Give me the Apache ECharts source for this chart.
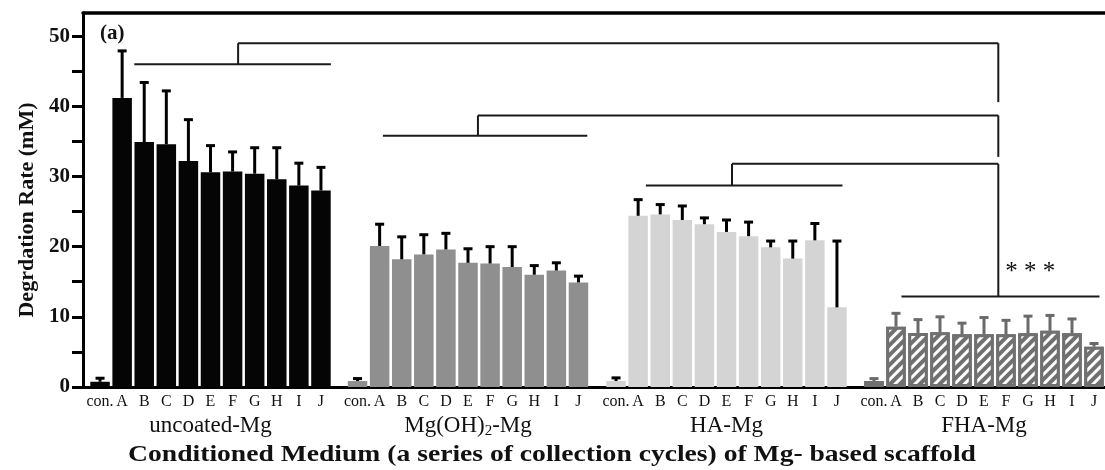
<!DOCTYPE html>
<html><head><meta charset="utf-8">
<script src="https://cdn.jsdelivr.net/npm/echarts@6/dist/echarts.min.js"></script>
<style>html,body{margin:0;padding:0;background:#fff}#c{width:1105px;height:470px}</style>
</head><body><div id="c"></div>
<script>
// ---- data ----
const cycles = ['con.','A','B','C','D','E','F','G','H','I','J'];
const groupNames = ['uncoated-Mg','{n|Mg(OH)}{s|2}{n|-Mg}','HA-Mg','FHA-Mg'];
const uncoatedMean = [0.75, 41.2, 34.9, 34.6, 32.2, 30.6, 30.7, 30.4, 29.6, 28.7, 28.0];
const uncoatedSD   = [0.5, 6.7, 8.5, 7.6, 5.9, 3.8, 2.8, 3.7, 4.5, 3.2, 3.3];
const mgohMean = [0.85, 20.1, 18.2, 18.9, 19.6, 17.7, 17.6, 17.1, 16.0, 16.6, 14.9];
const mgohSD   = [0.35, 3.1, 3.2, 2.8, 2.3, 2.0, 2.4, 2.9, 1.3, 1.1, 0.9];
const haMean = [0.85, 24.4, 24.6, 23.8, 23.2, 22.1, 21.5, 19.9, 18.3, 20.9, 11.35];
const haSD   = [0.45, 2.3, 1.4, 2.0, 0.9, 1.7, 2.0, 0.9, 2.5, 2.4, 9.45];
const fhaMean = [0.85, 8.6, 7.7, 7.8, 7.5, 7.5, 7.5, 7.65, 8.0, 7.65, 5.75];
const fhaSD   = [0.35, 1.9, 1.9, 2.2, 1.6, 2.4, 2.0, 2.45, 2.2, 2.05, 0.45];
// significance brackets (category positions within group, values in mM)
const underFrom  = [1.55, 1.15, 1.35, 1.25];
const underTo    = [10.45, 10.4, 10.25, 10.25];
const underLevel = [46.0, 35.8, 28.7, 12.9];
const riserAt    = [6.25, 5.45, 5.25, 5.65];
const linkLevel  = [49.0, 38.7, 31.8];
const dropEnd    = [40.6, 32.8, 12.9];
const starsPos   = [7.1, 16.3];
const yLabelValues = [0, 10, 20, 30, 40, 50];
const yTickValues = [0, 5, 10, 15, 20, 25, 30, 35, 40, 45, 50];
const yMax = 53.3;
const xTitle = 'Conditioned Medium (a series of collection cycles) of Mg- based scaffold';
const yTitle = 'Degrdation Rate (mM)';
const panelTag = '(a)';

// ---- style ----
const FONT = 'Liberation Serif';
const means = [uncoatedMean, mgohMean, haMean, fhaMean];
const sds = [uncoatedSD, mgohSD, haSD, fhaSD];
const barColors = ['#050505','#8f8f8f','#d4d4d4','#707070'];
const errColors = ['#000','#000','#000','#6a6a6a'];
const gridLefts = [89, 346.5, 605, 863];
const gridWidth = 243;
const TOP = 13, BOTTOM = 83;

const grids = [{left:83, right:0, top:TOP, bottom:BOTTOM}];
gridLefts.forEach(l => grids.push({left:l, width:gridWidth, top:TOP, bottom:BOTTOM}));

const xAxes = [
  {type:'value', gridIndex:0, min:0, max:1, position:'bottom',
   axisLine:{show:true, onZero:false, lineStyle:{color:'#000', width:3}},
   axisTick:{show:false}, axisLabel:{show:false}, splitLine:{show:false}},
  {type:'value', gridIndex:0, min:0, max:1, position:'top',
   axisLine:{show:true, onZero:false, lineStyle:{color:'#000', width:3.5}},
   axisTick:{show:false}, axisLabel:{show:false}, splitLine:{show:false}}
];
const yAxes = [
  {type:'value', gridIndex:0, min:0, max:yMax, interval:10,
   axisLine:{show:true, lineStyle:{color:'#000', width:3}},
   axisTick:{show:true, length:11, customValues:yTickValues, lineStyle:{width:3, color:'#000'}},
   minorTick:{show:false},
   splitLine:{show:false}, minorSplitLine:{show:false},
   axisLabel:{fontFamily:FONT, fontWeight:'bold', fontSize:21, color:'#111', margin:13, customValues:yLabelValues},
   name:yTitle, nameLocation:'middle', nameGap:40,
   nameTextStyle:{fontFamily:FONT, fontWeight:'bold', fontSize:22, color:'#111', padding:[0,20,0,0]}}
];
const series = [];
for (let g = 0; g < 4; g++) {
  xAxes.push({type:'category', gridIndex:g+1, data:cycles,
    axisLine:{show:false}, axisTick:{show:false},
    axisLabel:{fontFamily:FONT, fontSize:16, color:'#111', margin:7, interval:0},
    name:groupNames[g], nameLocation:'middle', nameGap:25,
    nameTextStyle:{fontFamily:FONT, fontSize:23, color:'#111',
      rich:{n:{fontFamily:FONT, fontSize:23, color:'#111'},
            s:{fontFamily:FONT, fontSize:15, color:'#111', verticalAlign:'bottom', padding:[10,0,0,0]}}}});
  yAxes.push({type:'value', gridIndex:g+1, min:0, max:yMax, show:false});
  const itemStyle = {color:barColors[g]};
  if (g === 3) {
    itemStyle.borderColor = barColors[g];
    itemStyle.borderWidth = 3;
    itemStyle.decal = {symbol:'rect', color:'#ffffff', dashArrayX:[1,0], dashArrayY:[2.2,3.5], rotation:-Math.PI/4};
  }
  series.push({type:'bar', xAxisIndex:g+2, yAxisIndex:g+1, data:means[g],
    barWidth:19.5, itemStyle, silent:true, animation:false});
  series.push({type:'custom', xAxisIndex:g+2, yAxisIndex:g+1, z:5, animation:false, silent:true,
    data:means[g].map((m,i)=>[i, m, m + sds[g][i]]),
    renderItem:(params, api) => {
      const x = api.value(0), m = api.value(1), t = api.value(2);
      const p1 = api.coord([x, m]), p2 = api.coord([x, t]);
      const w = 4.5, c = errColors[g];
      return {type:'group', children:[
        {type:'line', shape:{x1:p1[0], y1:p1[1], x2:p2[0], y2:p2[1]}, style:{stroke:c, lineWidth:3}},
        {type:'line', shape:{x1:p2[0]-w, y1:p2[1], x2:p2[0]+w, y2:p2[1]}, style:{stroke:c, lineWidth:3}}
      ]};
    }});
}

const chart = echarts.init(document.getElementById('c'));
chart.setOption({
  animation:false,
  backgroundColor:'#fff',
  grid:grids, xAxis:xAxes, yAxis:yAxes, series
});

// brackets & texts through the library's scales
function px(g, pos) {
  const a = chart.convertToPixel({gridIndex:g+1}, [0, 0])[0];
  const b = chart.convertToPixel({gridIndex:g+1}, [10, 0])[0];
  return a + (b - a) * pos / 10;
}
function py(v) { return chart.convertToPixel({gridIndex:1}, [0, v])[1]; }
const ls = {stroke:'#1a1a1a', lineWidth:2};
const els = [];
function L(x1,y1,x2,y2){ els.push({type:'line', shape:{x1,y1,x2,y2}, style:ls, silent:true}); }
for (let g = 0; g < 4; g++) {
  L(px(g, underFrom[g]), py(underLevel[g]), px(g, underTo[g]), py(underLevel[g]));
}
for (let g = 0; g < 3; g++) {
  const xr = px(g, riserAt[g]), xe = px(3, riserAt[3]);
  L(xr, py(underLevel[g]), xr, py(linkLevel[g]));
  L(xr, py(linkLevel[g]), xe, py(linkLevel[g]));
  L(xe, py(linkLevel[g]), xe, py(dropEnd[g]));
}
els.push({type:'text', x:px(3, starsPos[0]), y:py(starsPos[1]), silent:true,
  style:{text:'* * *', fontFamily:FONT, fontSize:25, fill:'#111', align:'center', verticalAlign:'middle'}});
els.push({type:'text', x:552, y:455, scaleX:1.2, silent:true,
  style:{text:xTitle, fontFamily:FONT, fontWeight:'bold', fontSize:23, fill:'#111', align:'center', verticalAlign:'middle'}});
els.push({type:'text', x:100, y:34, silent:true,
  style:{text:panelTag, fontFamily:FONT, fontWeight:'bold', fontSize:21, fill:'#111', align:'left', verticalAlign:'middle'}});
chart.setOption({graphic:els});
</script></body></html>
